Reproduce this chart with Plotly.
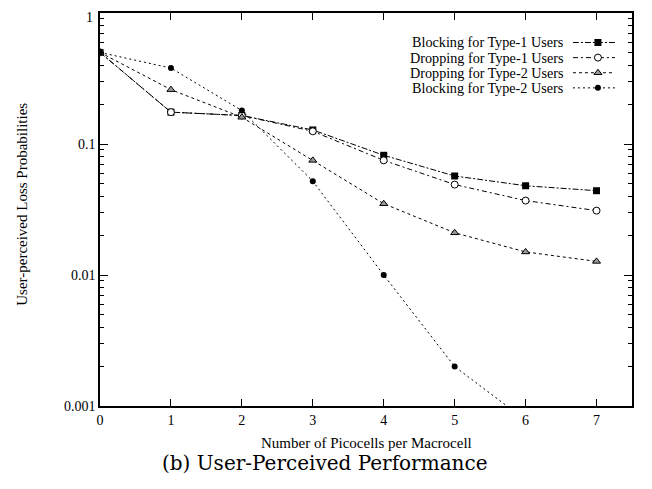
import plotly.graph_objects as go

picocells = [0, 1, 2, 3, 4, 5, 6, 7]
blocking_t1 = [0.5, 0.175, 0.165, 0.128, 0.082, 0.057, 0.048, 0.044]
dropping_t1 = [0.5, 0.175, 0.165, 0.125, 0.075, 0.049, 0.037, 0.031]
dropping_t2 = [0.5, 0.26, 0.16, 0.075, 0.035, 0.021, 0.015, 0.0127]
blocking_t2 = [0.5, 0.38, 0.18, 0.052, 0.01, 0.002, 0.00078, 0.0003]

y_tick_vals = [1, 0.1, 0.01, 0.001]
y_tick_text = ["1", "0.1", "0.01", "0.001"]

series_names = ["Blocking for Type-1 Users", "Dropping for Type-1 Users",
                "Dropping for Type-2 Users", "Blocking for Type-2 Users"]
series_vals = [blocking_t1, dropping_t1, dropping_t2, blocking_t2]
dashes = ["6px,2px,2px,2px", "5px,3px,2px,3px", "3px,3px", "2px,3px"]
markers = [
    dict(symbol="square", size=7, color="black"),
    dict(symbol="circle", size=7, color="white", line=dict(color="black", width=1)),
    dict(symbol="triangle-up", size=7, color="#999999", line=dict(color="black", width=1)),
    dict(symbol="circle", size=6, color="black"),
]

FONT = "Liberation Serif"
fig = go.Figure()

for name, vals, dash, mk in zip(series_names, series_vals, dashes, markers):
    fig.add_trace(go.Scatter(
        x=picocells, y=vals, mode="lines+markers", name=name,
        line=dict(color="black", width=1, dash=dash),
        marker=mk, showlegend=False, cliponaxis=True,
    ))

# custom legend (text left, sample right) on an overlay axis
leg_y = [0.925, 0.8865, 0.848, 0.8095]
for name, dash, mk, yy in zip(series_names, dashes, markers, leg_y):
    fig.add_trace(go.Scatter(
        x=[0.889, 0.968], y=[yy, yy], mode="lines", xaxis="x2", yaxis="y2",
        line=dict(color="black", width=1, dash=dash), showlegend=False, hoverinfo="skip",
    ))
    fig.add_trace(go.Scatter(
        x=[0.936], y=[yy], mode="markers", xaxis="x2", yaxis="y2",
        marker=mk, showlegend=False, hoverinfo="skip",
    ))
    fig.add_annotation(x=0.875, y=yy, xref="paper", yref="paper", text=name,
                       showarrow=False, xanchor="right", yanchor="middle",
                       font=dict(family=FONT, size=14.2, color="black"))

minor_vals = []
for e in [0.001, 0.01, 0.1]:
    minor_vals += [e * k for k in range(2, 10)]

# the top label ("1") is drawn as an annotation so it stays inside the page
shown_text = [""] + y_tick_text[1:]

fig.update_layout(
    width=652, height=489,
    margin=dict(l=92, r=28, t=5, b=91, autoexpand=False),
    paper_bgcolor="white", plot_bgcolor="white",
    font=dict(family=FONT, size=14, color="black"),
    xaxis=dict(range=[0, 7.5], tickvals=picocells, ticks="inside", ticklen=7,
               tickwidth=1.2, tickcolor="black", showline=True, linecolor="black",
               linewidth=1.5, mirror="ticks", showgrid=False, zeroline=False,
               ticklabeloverflow="allow", automargin=False,
               tickfont=dict(family=FONT, size=14)),
    yaxis=dict(type="log", range=[-3, 0], tickvals=y_tick_vals,
               ticktext=shown_text, ticks="inside", ticklen=8,
               tickwidth=1.2, tickcolor="black", showline=True, linecolor="black",
               linewidth=1.5, mirror="ticks", showgrid=False, zeroline=False,
               ticklabeloverflow="allow", automargin=False,
               tickfont=dict(family=FONT, size=14),
               minor=dict(tickvals=minor_vals, ticks="inside", ticklen=4,
                          tickwidth=1, tickcolor="black", showgrid=False)),
    xaxis2=dict(range=[0, 1], overlaying="x", visible=False, fixedrange=True),
    yaxis2=dict(range=[0, 1], overlaying="y", visible=False, fixedrange=True),
)

fig.add_annotation(x=0, y=1, xref="paper", yref="paper", text=y_tick_text[0],
                   showarrow=False, xanchor="right", yanchor="top",
                   xshift=-6, yshift=4, borderpad=0,
                   font=dict(family=FONT, size=14))
fig.add_annotation(x=0.5, y=-0.094, xref="paper", yref="paper",
                   text="Number of Picocells per Macrocell", showarrow=False,
                   xanchor="center", yanchor="middle",
                   font=dict(family=FONT, size=15))
fig.add_annotation(x=-0.147, y=0.514, xref="paper", yref="paper",
                   text="User-perceived Loss Probabilities", showarrow=False,
                   textangle=-90, xanchor="center", yanchor="middle",
                   font=dict(family=FONT, size=15))
fig.add_annotation(x=0.423, y=-0.145, xref="paper", yref="paper",
                   text="(b) User-Perceived Performance", showarrow=False,
                   xanchor="center", yanchor="middle",
                   font=dict(family="DejaVu Serif", size=20))

fig.write_html("out.html")
